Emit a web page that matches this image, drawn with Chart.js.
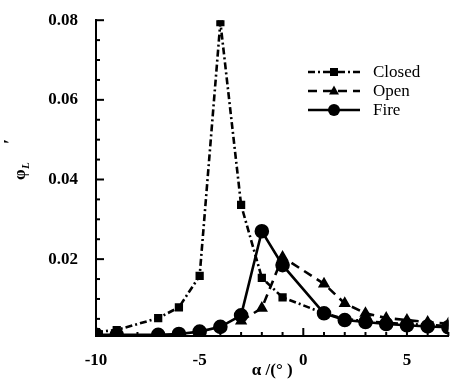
<!DOCTYPE html>
<html>
<head>
<meta charset="utf-8">
<script src="https://cdn.jsdelivr.net/npm/chart.js@4.4.1/dist/chart.umd.min.js"></script>
<style>
  html, body { margin: 0; padding: 0; background: #fff; }
  #wrap { width: 457px; height: 385px; position: relative; }
</style>
</head>
<body>
<div id="wrap"><canvas id="chart"></canvas></div>
<script>
// data
const closedAlpha = [-10, -9, -7, -6, -5, -4, -3, -2, -1, 1, 2, 3, 4, 5, 6, 7];
const closedPhi = [0.0017, 0.0022, 0.0052, 0.0079, 0.0158, 0.0795, 0.0336, 0.0153, 0.0104, 0.0064, 0.0050, 0.0044, 0.0040, 0.0037, 0.0035, 0.0032];
const openAlpha = [-3, -2, -1, 1, 2, 3, 4, 5, 6, 7];
const openPhi = [0.0045, 0.0077, 0.0205, 0.0138, 0.0089, 0.0064, 0.0052, 0.0047, 0.0042, 0.0038];
const fireAlpha = [-10, -9, -7, -6, -5, -4, -3, -2, -1, 1, 2, 3, 4, 5, 6, 7];
const firePhi = [0.0010, 0.0010, 0.0010, 0.0012, 0.0018, 0.0030, 0.0059, 0.0270, 0.0185, 0.0064, 0.0047, 0.0042, 0.0037, 0.0034, 0.0031, 0.0029];
const xTicks = [-10, -9, -8, -7, -6, -5, -4, -3, -2, -1, 0, 1, 2, 3, 4, 5, 6, 7];
const yTicks = [0.005, 0.01, 0.015, 0.02, 0.025, 0.03, 0.035, 0.04, 0.045, 0.05, 0.055, 0.06, 0.065, 0.07, 0.075, 0.08];
const seriesNames = ['Closed', 'Open', 'Fire'];

const serif = '"Liberation Serif", "DejaVu Serif", serif';

function pts(xs, ys) {
  return xs.map((x, i) => ({ x: x, y: ys[i] }));
}
function isMajor(v, step) {
  return Math.abs(v / step - Math.round(v / step)) < 1e-6;
}

function drawMarker(ctx, style, r, x, y) {
  ctx.beginPath();
  if (style === 'rect') {
    ctx.rect(x - r, y - r, 2 * r, 2 * r);
  } else if (style === 'triangle') {
    ctx.moveTo(x, y - r * 1.2);
    ctx.lineTo(x + r * 1.1, y + r * 0.8);
    ctx.lineTo(x - r * 1.1, y + r * 0.8);
    ctx.closePath();
  } else {
    ctx.arc(x, y, r, 0, Math.PI * 2);
  }
  ctx.fill();
}

// inward ticks, legend and y title
const extras = {
  id: 'extras',
  afterDraw(chart) {
    const ctx = chart.ctx;
    const xs = chart.scales.x, ys = chart.scales.y;
    const area = chart.chartArea;
    ctx.save();
    ctx.strokeStyle = '#000';
    ctx.lineWidth = 2;
    xTicks.forEach(v => {
      const px = xs.getPixelForValue(v);
      const len = isMajor(v, 5) ? 8 : 4;
      ctx.beginPath();
      ctx.moveTo(px, area.bottom);
      ctx.lineTo(px, area.bottom - len);
      ctx.stroke();
    });
    yTicks.forEach(v => {
      const py = ys.getPixelForValue(v);
      const len = isMajor(v, 0.02) ? 8 : 4;
      ctx.beginPath();
      ctx.moveTo(area.left, py);
      ctx.lineTo(area.left + len, py);
      ctx.stroke();
    });

    // legend
    const rows = [72, 91, 110];
    chart.data.datasets.forEach((ds, i) => {
      const y = rows[i];
      ctx.strokeStyle = '#000';
      ctx.fillStyle = '#000';
      ctx.lineWidth = 2.5;
      ctx.setLineDash(ds.borderDash || []);
      ctx.beginPath();
      ctx.moveTo(308, y);
      ctx.lineTo(360, y);
      ctx.stroke();
      ctx.setLineDash([]);
      drawMarker(ctx, ds.pointStyle, ds.pointRadius, 334, y);
      ctx.font = '17px ' + serif;
      ctx.textBaseline = 'middle';
      ctx.textAlign = 'left';
      ctx.fillText(ds.label, 373, y + 1);
    });

    // y title: phi_L prime, rotated
    ctx.translate(25, 180);
    ctx.rotate(-Math.PI / 2);
    ctx.fillStyle = '#000';
    ctx.textBaseline = 'alphabetic';
    ctx.font = 'bold 17px ' + serif;
    ctx.fillText('\u03c6', 0, 0);
    ctx.font = 'italic bold 11px ' + serif;
    ctx.fillText('L', 11, 4);
    ctx.font = 'bold 18px ' + serif;
    ctx.fillText('\u2032', 36, -8);
    ctx.restore();
  }
};

new Chart(document.getElementById('chart'), {
  type: 'line',
  data: {
    datasets: [
      {
        label: seriesNames[0],
        data: pts(closedAlpha, closedPhi),
        borderColor: '#000',
        backgroundColor: '#000',
        borderWidth: 2.6,
        borderDash: [7, 3, 2, 3],
        pointStyle: 'rect',
        pointRadius: 4,
        tension: 0
      },
      {
        label: seriesNames[1],
        data: pts(openAlpha, openPhi),
        borderColor: '#000',
        backgroundColor: '#000',
        borderWidth: 2.6,
        borderDash: [9, 6],
        pointStyle: 'triangle',
        pointRadius: 4.5,
        tension: 0
      },
      {
        label: seriesNames[2],
        data: pts(fireAlpha, firePhi),
        borderColor: '#000',
        backgroundColor: '#000',
        borderWidth: 2.6,
        pointStyle: 'circle',
        pointRadius: 6,
        tension: 0
      }
    ]
  },
  options: {
    responsive: true,
    maintainAspectRatio: false,
    animation: false,
    layout: { padding: { left: 0, top: 15, right: 7, bottom: 0 } },
    plugins: { legend: { display: false }, tooltip: { enabled: false } },
    scales: {
      x: {
        type: 'linear',
        min: -10,
        max: 7,
        afterBuildTicks: s => { s.ticks = xTicks.map(v => ({ value: v })); },
        afterFit: s => { s.height = 49; },
        grid: { display: false },
        border: { display: true, color: '#000', width: 2 },
        ticks: {
          padding: 6,
          autoSkip: false,
          maxRotation: 0,
          color: '#000',
          font: { family: serif, size: 17, weight: 'bold' },
          callback: v => isMajor(v, 5) ? String(v) : ''
        },
        title: {
          display: true,
          text: '\u03b1 /(\u00b0 )',
          color: '#000',
          font: { family: serif, size: 17, weight: 'bold' },
          padding: { top: 0, bottom: 4 }
        }
      },
      y: {
        min: 0.0007,
        max: 0.08,
        afterBuildTicks: s => { s.ticks = yTicks.map(v => ({ value: v })); },
        afterFit: s => { s.width = 96; },
        grid: { display: false },
        border: { display: true, color: '#000', width: 2 },
        ticks: {
          padding: 10,
          autoSkip: false,
          color: '#000',
          font: { family: serif, size: 17, weight: 'bold' },
          callback: v => isMajor(v, 0.02) ? v.toFixed(2) : ''
        }
      }
    }
  },
  plugins: [extras]
});
</script>
</body>
</html>
